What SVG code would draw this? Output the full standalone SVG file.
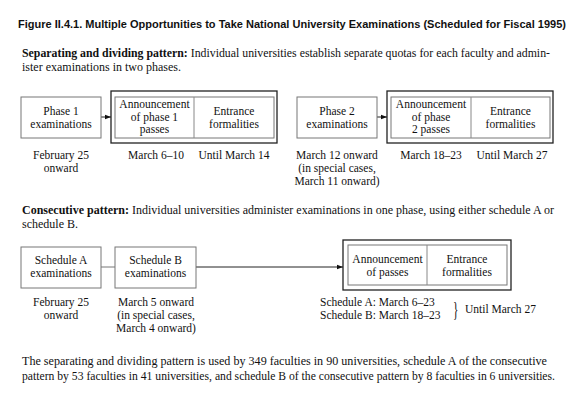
<svg xmlns="http://www.w3.org/2000/svg" width="588" height="400" viewBox="0 0 588 400">
<defs>
<style>
text{font-family:"Liberation Serif","Times New Roman",serif;font-size:12px;fill:#111}
.t{font-family:"Liberation Sans",Arial,sans-serif;font-weight:bold;font-size:11px}
.b{font-weight:bold}
.c{text-anchor:middle;font-size:11.5px}
.s{font-size:11.5px}
.box{fill:#fff;stroke:#777;stroke-width:1}
.outer{fill:#fff;stroke:#222;stroke-width:1.3}
.div{stroke:#888;stroke-width:1}
.con{stroke:#222;stroke-width:1;fill:none}
</style>
<marker id="ah" viewBox="0 0 8 8" refX="8" refY="4" markerWidth="6" markerHeight="6" orient="auto" markerUnits="userSpaceOnUse">
<path d="M0,1 L8,4 L0,7 z" fill="#111"/>
</marker>
</defs>
<rect width="588" height="400" fill="#fff"/>
<text class="t" x="18" y="28" textLength="548" lengthAdjust="spacingAndGlyphs">Figure II.4.1. Multiple Opportunities to Take National University Examinations (Scheduled for Fiscal 1995)</text>
<text x="22" y="57" textLength="528" lengthAdjust="spacingAndGlyphs"><tspan class="b">Separating and dividing pattern:</tspan> Individual universities establish separate quotas for each faculty and admin-</text>
<text x="22" y="71">ister examinations in two phases.</text>

<g id="connectors">
<line class="con" x1="101" y1="117" x2="111" y2="117" marker-end="url(#ah)"/>
<line class="con" x1="377" y1="117" x2="387" y2="117" marker-end="url(#ah)"/>
<line class="con" x1="101" y1="267" x2="115" y2="267" style="stroke:#777"/>
<line class="con" x1="196" y1="267" x2="343" y2="267" marker-end="url(#ah)"/>
</g>

<g id="phase1">
<rect class="box" x="21" y="97" width="80" height="41"/>
<text class="c" x="61" y="115">Phase 1</text>
<text class="c" x="61" y="128">examinations</text>
<text class="c" x="61" y="159">February 25</text>
<text class="c" x="61" y="172">onward</text>
</g>
<g id="results1">
<rect class="outer" x="111" y="91" width="166" height="52"/>
<rect class="box" x="115" y="97" width="159" height="41"/>
<line class="div" x1="194" y1="97" x2="194" y2="138"/>
<text class="c" x="154.5" y="108">Announcement</text>
<text class="c" x="154.5" y="120.5">of phase 1</text>
<text class="c" x="154.5" y="133">passes</text>
<text class="c" x="234" y="115">Entrance</text>
<text class="c" x="234" y="128">formalities</text>
<text class="c" x="156" y="159">March 6–10</text>
<text class="c" x="234" y="159">Until March 14</text>
</g>
<g id="phase2">
<rect class="box" x="297" y="97" width="80" height="41"/>
<text class="c" x="337" y="115">Phase 2</text>
<text class="c" x="337" y="128">examinations</text>
<text class="c" x="337" y="159">March 12 onward</text>
<text class="c" x="337" y="172">(in special cases,</text>
<text class="c" x="337" y="185">March 11 onward)</text>
</g>
<g id="results2">
<rect class="outer" x="387" y="91" width="166" height="52"/>
<rect class="box" x="391" y="97" width="159" height="41"/>
<line class="div" x1="471" y1="97" x2="471" y2="138"/>
<text class="c" x="431" y="108">Announcement</text>
<text class="c" x="431" y="120.5">of phase</text>
<text class="c" x="431" y="133">2 passes</text>
<text class="c" x="510.5" y="115">Entrance</text>
<text class="c" x="510.5" y="128">formalities</text>
<text class="c" x="431" y="159">March 18–23</text>
<text class="c" x="512" y="159">Until March 27</text>
</g>

<text x="22" y="214" textLength="532" lengthAdjust="spacingAndGlyphs"><tspan class="b">Consecutive pattern:</tspan> Individual universities administer examinations in one phase, using either schedule A or</text>
<text x="22" y="228">schedule B.</text>

<g id="scheduleA">
<rect class="box" x="21" y="247" width="80" height="41"/>
<text class="c" x="61" y="264">Schedule A</text>
<text class="c" x="61" y="277">examinations</text>
<text class="c" x="61" y="306">February 25</text>
<text class="c" x="61" y="319">onward</text>
</g>
<g id="scheduleB">
<rect class="box" x="115" y="247" width="81" height="41"/>
<text class="c" x="155.5" y="264">Schedule B</text>
<text class="c" x="155.5" y="277">examinations</text>
<text class="c" x="156" y="306">March 5 onward</text>
<text class="c" x="156" y="319">(in special cases,</text>
<text class="c" x="156" y="332">March 4 onward)</text>
</g>
<g id="results3">
<rect class="outer" x="343" y="240" width="168" height="50"/>
<rect class="box" x="348" y="245" width="159" height="40"/>
<line class="div" x1="427" y1="245" x2="427" y2="285"/>
<text class="c" x="387.5" y="263">Announcement</text>
<text class="c" x="387.5" y="276">of passes</text>
<text class="c" x="467" y="263">Entrance</text>
<text class="c" x="467" y="276">formalities</text>
<text class="s" x="320" y="306">Schedule A:  March 6–23</text>
<text class="s" x="320" y="319">Schedule B:  March 18–23</text>
<text x="453" y="316" transform="translate(453 316) scale(0.7 1.3) translate(-453 -316)" style="font-size:16px">}</text>
<text class="s" x="465" y="313">Until March 27</text>
</g>

<text x="22" y="365" textLength="525" lengthAdjust="spacingAndGlyphs">The separating and dividing pattern is used by 349 faculties in 90 universities, schedule A of the consecutive</text>
<text x="22" y="380" textLength="533" lengthAdjust="spacingAndGlyphs">pattern by 53 faculties in 41 universities, and schedule B of the consecutive pattern by 8 faculties in 6 universities.</text>
</svg>
